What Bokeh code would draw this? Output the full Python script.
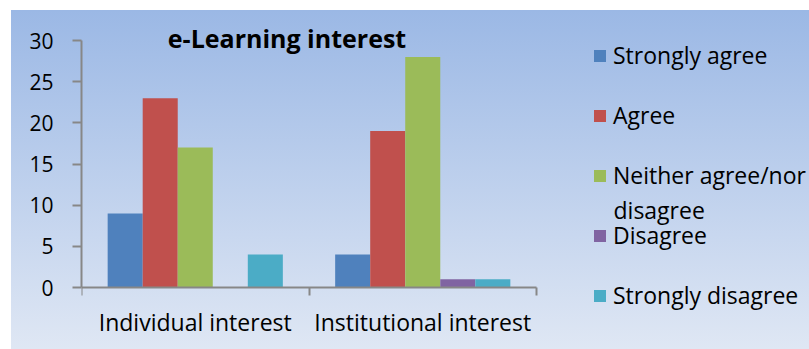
from bokeh.plotting import figure
from bokeh.models import (Range1d, FixedTicker, Legend, LegendItem, Label,
                          ColumnDataSource)
from bokeh.embed import file_html
from bokeh.resources import INLINE

# --- data -------------------------------------------------------------
categories = ["Individual interest", "Institutional interest"]
series = ["Strongly agree", "Agree", "Neither agree/nor", "Disagree",
          "Strongly disagree"]
strongly_agree = [9, 4]
agree = [23, 19]
neither = [17, 28]
disagree = [0, 1]
strongly_disagree = [4, 1]
y_ticks = [0, 5, 10, 15, 20, 25, 30]

values = [strongly_agree, agree, neither, disagree, strongly_disagree]
colors = ["#4F81BD", "#C0504D", "#9BBB59", "#8064A2", "#4BACC6"]

# --- layout geometry (canvas pixels) ----------------------------------
W, H = 809, 349
AX_L, AX_R, AX_T, AX_B = 81, 536, 40, 287   # extent of the drawn axes
XMAX, YMAX = len(categories), 30

# the frame spans right/top/bottom edges so legend and title live inside it;
# the x axis is pinned at y=0
FR, FT, FB = W, 10, H
PX_X = (AX_R - AX_L) / XMAX
PX_Y = (AX_B - AX_T) / YMAX
XR = (FR - AX_L) / PX_X
Y_HI = (AX_B - FT) / PX_Y
Y_LO = -(FB - AX_B) / PX_Y

def to_data(px, py):
    """Canvas pixel -> data coordinates."""
    return (px - AX_L) / PX_X, (AX_B - py) / PX_Y

FONT = "Open Sans"

p = figure(width=W, height=H, output_backend="svg", toolbar_location=None,
           x_range=Range1d(0, XR), y_range=Range1d(Y_LO, Y_HI),
           min_border_left=AX_L, min_border_right=W - FR,
           min_border_top=FT, min_border_bottom=H - FB)
p.background_fill_alpha = 0
p.border_fill_alpha = 0
p.outline_line_color = None
p.grid.visible = False
p.styles = {
    "background": "linear-gradient(to bottom, #9BB8E5, #DFE7F4) "
                  "11px 10px / 798px 339px no-repeat, #FFFFFF"
}

# --- bars -------------------------------------------------------------
bar_w = 0.154
renderers = []
for i, (name, vals, col) in enumerate(zip(series, values, colors)):
    offset = (i - (len(series) - 1) / 2) * bar_w
    xs = [k + 0.5 + offset for k in range(len(categories))]
    src = ColumnDataSource(dict(x=xs, top=vals))
    r = p.vbar(x="x", top="top", bottom=0, width=bar_w, source=src,
               fill_color=col, line_color=None)
    renderers.append(r)

# --- axes -------------------------------------------------------------
axis_col = "#878787"
xa = p.xaxis[0]
xa.fixed_location = 0
xa.bounds = (0, XMAX)
xa.ticker = FixedTicker(ticks=[k + 0.5 for k in range(len(categories))],
                        minor_ticks=list(range(len(categories) + 1)))
xa.major_label_overrides = {k + 0.5: c for k, c in enumerate(categories)}
xa.major_tick_out = 0
xa.major_tick_in = 0
xa.minor_tick_out = 8
xa.minor_tick_in = 0
xa.minor_tick_line_color = axis_col
xa.minor_tick_line_width = 2
xa.axis_line_color = axis_col
xa.axis_line_width = 2
xa.major_label_text_font = FONT
xa.major_label_text_font_size = "23px"
xa.major_label_text_color = "#000000"
xa.major_label_standoff = 10

ya = p.yaxis[0]
ya.bounds = (0, YMAX)
ya.ticker = FixedTicker(ticks=y_ticks, minor_ticks=[])
ya.major_tick_out = 9
ya.major_tick_in = 0
ya.major_tick_line_color = axis_col
ya.major_tick_line_width = 2
ya.axis_line_color = axis_col
ya.axis_line_width = 2
ya.major_label_text_font = FONT
ya.major_label_text_font_size = "21px"
ya.major_label_text_color = "#000000"
ya.major_label_standoff = 19

# --- title ------------------------------------------------------------
tx, ty = to_data(286.5, 37)
p.add_layout(Label(x=tx, y=ty, text="e-Learning interest", text_font=FONT,
                   text_font_size="25px", text_font_style="bold",
                   text_align="center", text_baseline="alphabetic",
                   text_color="#000000"))

# --- legend -----------------------------------------------------------
item_h, step = 36, 60
n = len(series)
leg_h = n * item_h + (n - 1) * (step - item_h)
first_center = 55
leg_bottom_canvas = first_center - item_h / 2 + leg_h
legend = Legend(items=[LegendItem(label=s, renderers=[r])
                       for s, r in zip(series, renderers)],
                location=(592 - AX_L, FB - leg_bottom_canvas),
                orientation="vertical", padding=0, margin=0,
                spacing=step - item_h, glyph_width=15, glyph_height=15,
                label_height=item_h, label_standoff=6,
                label_text_font=FONT, label_text_font_size="23px",
                label_text_color="#000000",
                border_line_color=None, background_fill_alpha=0)
p.add_layout(legend, "center")

# wrapped second line of the third legend entry
lx, ly = to_data(613, 209)
p.add_layout(Label(x=lx, y=ly, text="disagree", text_font=FONT,
                   text_font_size="23px", text_align="left",
                   text_baseline="alphabetic", text_color="#000000"))

open("out.html", "w").write(file_html(p, INLINE))
